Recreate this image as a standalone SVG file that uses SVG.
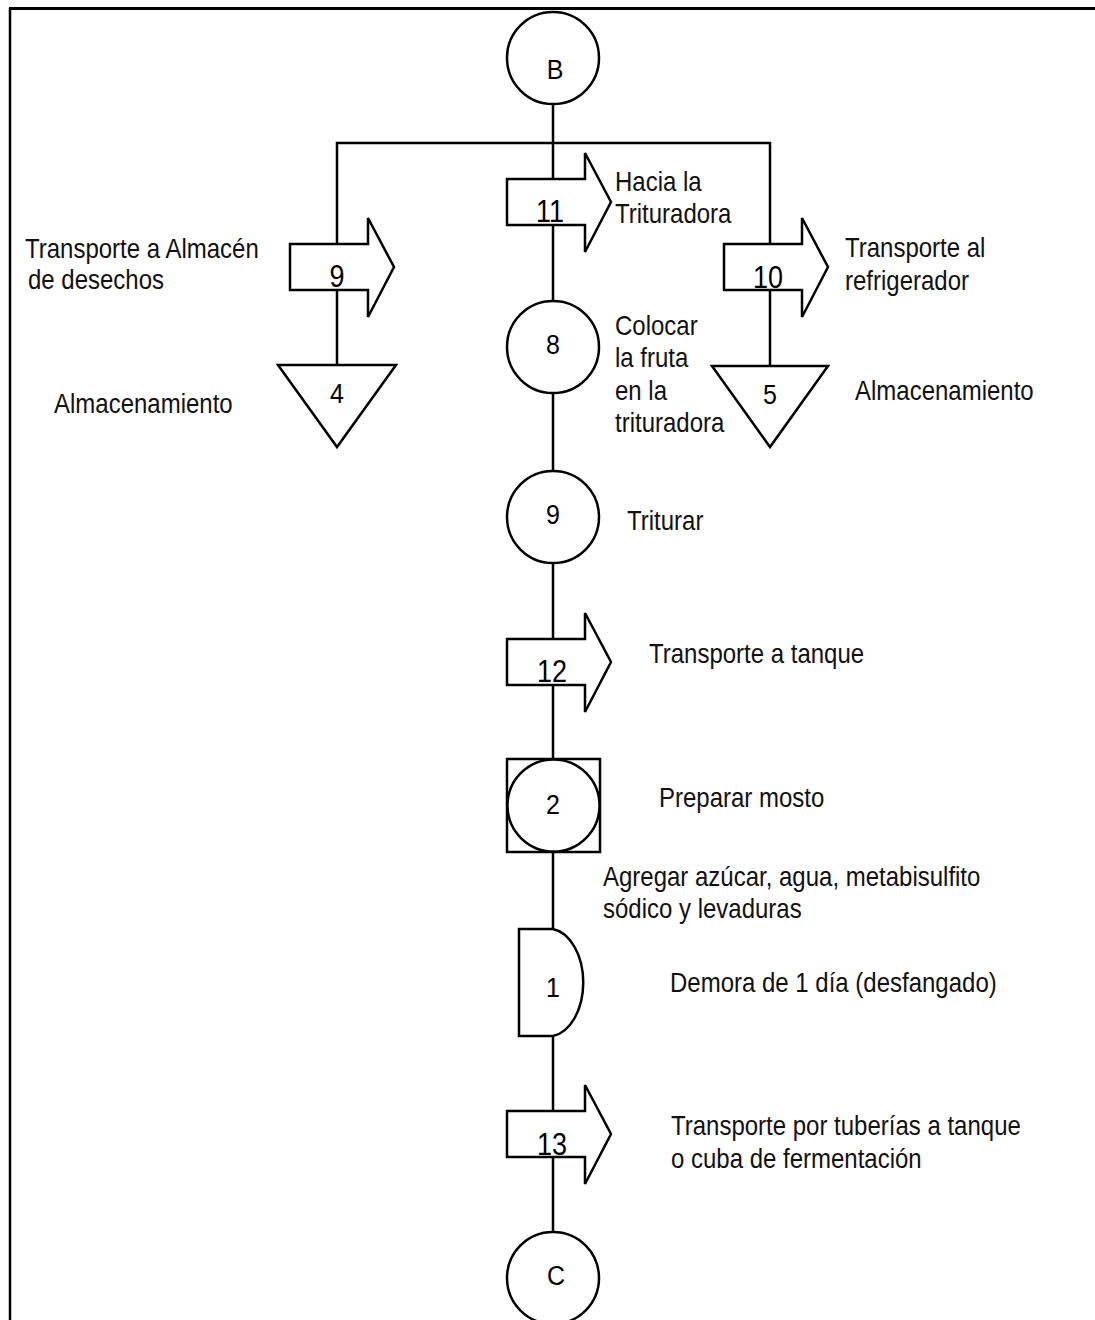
<svg xmlns="http://www.w3.org/2000/svg" width="1095" height="1320" viewBox="0 0 1095 1320">
<defs>
<style>
.s{fill:#fff;stroke:#000;stroke-width:2.5}
.c{fill:none;stroke:#000;stroke-width:2.5}
.t{font-family:"Liberation Sans",Arial,sans-serif;font-size:24px;fill:#111}
.n{font-family:"Liberation Sans",Arial,sans-serif;font-size:25px;fill:#000;text-anchor:middle}
.a{font-family:"Liberation Sans",Arial,sans-serif;font-size:27px;fill:#000;text-anchor:middle}
</style>
<path id="arr" class="s" d="M0,0 H78 V-26 L104,23 L78,73 V46 H0 Z"/>
</defs>
<rect width="1095" height="1320" fill="#fff"/>
<g id="frame">
<line x1="9" y1="8.5" x2="1095" y2="8.5" stroke="#000" stroke-width="3"/>
<line x1="10" y1="8" x2="10" y2="1320" stroke="#000" stroke-width="2.5"/>
</g>
<g id="connectors">
<line class="c" x1="553" y1="104" x2="553" y2="1232"/>
<polyline class="c" points="337,365 337,143 770,143 770,366"/>
</g>
<g id="nodeB"><circle class="s" cx="553" cy="58" r="46"/><text class="n" transform="translate(555,79) scale(1,1.12)">B</text></g>
<g id="arrow11"><use href="#arr" x="507" y="179"/><text class="a" transform="translate(550,222) scale(1,1.15)">11</text></g>
<g id="arrow9"><use href="#arr" x="290" y="244"/><text class="a" transform="translate(337,287) scale(1,1.15)">9</text></g>
<g id="arrow10"><use href="#arr" x="724" y="244"/><text class="a" transform="translate(768,288) scale(1,1.15)">10</text></g>
<g id="tri4"><polygon class="s" points="278,365 396,365 337,447"/><text class="n" transform="translate(337,403) scale(1,1.12)">4</text></g>
<g id="tri5"><polygon class="s" points="712,366 828,366 770,447"/><text class="n" transform="translate(770,404) scale(1,1.12)">5</text></g>
<g id="op8"><circle class="s" cx="553" cy="347" r="46"/><text class="n" transform="translate(553,354) scale(1,1.12)">8</text></g>
<g id="op9"><circle class="s" cx="553" cy="517" r="46"/><text class="n" transform="translate(553,524) scale(1,1.12)">9</text></g>
<g id="arrow12"><use href="#arr" x="507" y="639"/><text class="a" transform="translate(552,682) scale(1,1.15)">12</text></g>
<g id="combo2"><rect class="s" x="507" y="759" width="93" height="93"/><circle class="s" cx="553.5" cy="805.5" r="46"/><text class="n" transform="translate(553,814) scale(1,1.12)">2</text></g>
<g id="delay1"><path class="s" d="M519,929 H553 A35,54 0 0 1 553,1036 H519 Z"/><text class="n" transform="translate(553,997) scale(1,1.12)">1</text></g>
<g id="arrow13"><use href="#arr" x="507" y="1111"/><text class="a" transform="translate(552,1155) scale(1,1.15)">13</text></g>
<g id="nodeC"><circle class="s" cx="553" cy="1278" r="46"/><text class="n" transform="translate(556,1285) scale(1,1.12)">C</text></g>
<g id="labels">
<text class="t" transform="translate(25,258) scale(1,1.12)">Transporte a Almacén</text>
<text class="t" transform="translate(28,289) scale(1,1.12)">de desechos</text>
<text class="t" transform="translate(54,413) scale(1,1.12)">Almacenamiento</text>
<text class="t" transform="translate(615,191) scale(1,1.12)">Hacia la</text>
<text class="t" transform="translate(615,223) scale(1,1.12)">Trituradora</text>
<text class="t" transform="translate(845,257) scale(1,1.12)">Transporte al</text>
<text class="t" transform="translate(845,290) scale(1,1.12)">refrigerador</text>
<text class="t" transform="translate(855,400) scale(1,1.12)">Almacenamiento</text>
<text class="t" transform="translate(615,335) scale(1,1.12)">Colocar</text>
<text class="t" transform="translate(615,367) scale(1,1.12)">la fruta</text>
<text class="t" transform="translate(615,400) scale(1,1.12)">en la</text>
<text class="t" transform="translate(615,432) scale(1,1.12)">trituradora</text>
<text class="t" transform="translate(627,530) scale(1,1.12)">Triturar</text>
<text class="t" transform="translate(649,663) scale(1,1.12)">Transporte a tanque</text>
<text class="t" transform="translate(659,807) scale(1,1.12)">Preparar mosto</text>
<text class="t" transform="translate(603,886) scale(1,1.12)">Agregar azúcar, agua, metabisulfito</text>
<text class="t" transform="translate(603,918) scale(1,1.12)">sódico y levaduras</text>
<text class="t" transform="translate(670,992) scale(1,1.12)">Demora de 1 día (desfangado)</text>
<text class="t" transform="translate(671,1135) scale(1,1.12)">Transporte por tuberías a tanque</text>
<text class="t" transform="translate(671,1168) scale(1,1.12)">o cuba de fermentación</text>
</g>
</svg>
